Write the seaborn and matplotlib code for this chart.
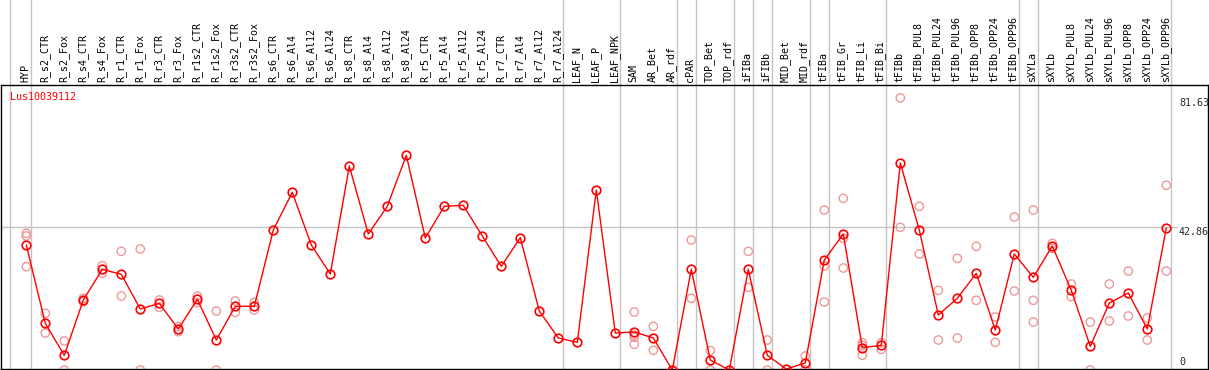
import numpy as np
import pandas as pd
import matplotlib
matplotlib.use("Agg")
import matplotlib.pyplot as plt
import matplotlib.transforms as mtransforms
import seaborn as sns

# --- data -------------------------------------------------------------
gene_id = "Lus10039112"

categories = [
    "HYP", "R_s2_CTR", "R_s2_Fox", "R_s4_CTR", "R_s4_Fox", "R_r1_CTR", "R_r1_Fox",
    "R_r3_CTR", "R_r3_Fox", "R_r1s2_CTR", "R_r1s2_Fox", "R_r3s2_CTR", "R_r3s2_Fox",
    "R_s6_CTR", "R_s6_Al4", "R_s6_Al12", "R_s6_Al24", "R_s8_CTR", "R_s8_Al4",
    "R_s8_Al12", "R_s8_Al24", "R_r5_CTR", "R_r5_Al4", "R_r5_Al12", "R_r5_Al24",
    "R_r7_CTR", "R_r7_Al4", "R_r7_Al12", "R_r7_Al24", "LEAF_N", "LEAF_P", "LEAF_NPK",
    "SAM", "AR_Bet", "AR_rdf", "cPAR", "TOP_Bet", "TOP_rdf", "iFIBa", "iFIBb",
    "MID_Bet", "MID_rdf", "tFIBa", "tFIB_Gr", "tFIB_Li", "tFIB_Bi", "tFIBb",
    "tFIBb_PUL8", "tFIBb_PUL24", "tFIBb_PUL96", "tFIBb_OPP8", "tFIBb_OPP24",
    "tFIBb_OPP96", "sXYLa", "sXYLb", "sXYLb_PUL8", "sXYLb_PUL24", "sXYLb_PUL96",
    "sXYLb_OPP8", "sXYLb_OPP24", "sXYLb_OPP96",
]

mean_values = [
    37.5, 14.0, 4.4, 21.0, 30.2, 28.7, 18.3, 20.0, 12.3, 21.2, 9.0, 19.1, 19.1,
    42.0, 53.3, 37.5, 28.8, 61.2, 40.8, 49.1, 64.4, 39.6, 49.1, 49.4, 40.2,
    31.1, 39.7, 17.7, 9.6, 8.3, 54.0, 11.1,
    11.4, 9.6, 0.0, 30.2, 3.0, 0.0, 30.2, 4.4, 0.3, 2.1,
    33.0, 40.8, 6.7, 7.4, 62.1, 42.0, 16.5, 21.5, 29.0, 12.0, 34.8,
    27.8, 37.2, 23.9, 7.1, 20.1, 23.1, 12.3, 42.6,
]

replicate_values = [
    [41.0, 40.2, 31.0], [17.0, 11.1], [8.7, 0.0], [21.5, 20.5], [31.3, 29.0],
    [35.6, 22.2], [36.3, 0.0], [21.0, 18.8], [13.0, 11.5], [22.2, 20.2],
    [17.7, 0.0], [20.7, 17.3], [20.3, 18.0],
    [], [], [], [], [], [], [], [], [], [], [], [], [], [], [], [], [], [], [],
    [17.4, 9.8, 7.7, 10.5], [13.1, 5.9], [], [39.0, 21.5], [5.8, 0.0], [],
    [35.6, 24.8], [9.0, 0.0], [], [4.2, 0.0],
    [48.0, 31.2, 20.4], [51.5, 39.5, 30.6], [8.2, 4.4, 7.4], [8.2, 6.2],
    [81.63, 42.8], [49.1, 34.8], [23.9, 9.0], [33.5, 9.6], [37.1, 20.9],
    [15.9, 8.3], [45.9, 23.7],
    [48.0, 20.9, 14.4], [38.0, 36.5], [25.8, 22.0], [14.4, 0.0], [25.8, 14.7],
    [29.7, 16.2], [15.6, 9.0], [55.4, 29.7],
]

# separators are drawn after these categories ("" = before the first one)
group_ends = ["", "HYP", "R_r7_Al24", "LEAF_NPK", "AR_rdf", "cPAR", "TOP_rdf",
              "iFIBa", "iFIBb", "MID_rdf", "tFIBa", "tFIB_Bi", "tFIBb_OPP96",
              "sXYLa", "sXYLb_OPP96"]

y_ticks = [0, 42.86, 81.63]

# --- frames -----------------------------------------------------------
pos = np.arange(len(categories))
df_mean = pd.DataFrame({"pos": pos, "value": mean_values})
df_reps = pd.DataFrame(
    [(i, v) for i, reps in enumerate(replicate_values) for v in reps],
    columns=["pos", "value"],
)

# --- style ------------------------------------------------------------
sns.set_style("white")
plt.rcParams["font.family"] = ["DejaVu Sans Mono"]
font_px = 7.2

fig = plt.figure(figsize=(12.09, 3.70), dpi=100)
W, H = 1209, 370
ax = fig.add_axes([1 / W, 1 / H, 1207 / W, 284 / H])

x0 = (1 - 26.3) / 19.0
x1 = (1208 - 26.3) / 19.0
ax.set_xlim(x0, x1)
ax.set_ylim(0.3, 85.5)

light = "#f09898"
grid = "#c4c4c4"

# horizontal reference line
ax.axhline(42.86, xmin=0, xmax=(1177 - 1) / 1207, color=grid, lw=1, zorder=1)

# group separators spanning label area too
for name in group_ends:
    idx = categories.index(name) if name else -1.1
    ax.axvline(idx + 0.24, ymin=0, ymax=1.31, color=grid, lw=1,
               clip_on=False, zorder=1)

sns.scatterplot(data=df_reps, x="pos", y="value", ax=ax, s=36,
                marker="o", facecolors="none", edgecolors=light,
                linewidths=1.0, zorder=2, legend=False)

sns.lineplot(data=df_mean, x="pos", y="value", ax=ax, color="red",
             lw=1, sort=False, estimator=None, marker="o", markersize=6.2,
             markerfacecolor="none", markeredgecolor="red",
             markeredgewidth=1.2, zorder=3, legend=False)

ax.set_xticks([])
ax.set_yticks([])
ax.set_xlabel("")
ax.set_ylabel("")
for sp in ax.spines.values():
    sp.set_color("black")
    sp.set_linewidth(1.0)
    sp.set_visible(True)

# rotated category labels above the plot
trans = mtransforms.blended_transform_factory(ax.transData, ax.transAxes)
for i, name in enumerate(categories):
    ax.text(i - 0.05, (369 - 82) / 284, name, rotation=90, ha="center",
            va="bottom", fontsize=font_px, color="black", transform=trans,
            clip_on=False)

# gene label
ax.text((10 - 1) / 1207, (369 - 97) / 284, gene_id, color="red",
        fontsize=font_px, ha="left", va="center", transform=ax.transAxes)

# right side value labels
tx = mtransforms.blended_transform_factory(ax.transAxes, ax.transData)
xr = (1179 - 1) / 1207
ax.text(xr, y_ticks[2], f"{y_ticks[2]:.2f}", transform=tx, ha="left",
        va="top", fontsize=font_px)
ax.text(xr, y_ticks[1], f"{y_ticks[1]:.2f}", transform=tx, ha="left",
        va="top", fontsize=font_px)
ax.text(xr, 0.9, f"{y_ticks[0]:g}", transform=tx, ha="left",
        va="bottom", fontsize=font_px)

fig.savefig("out.png", dpi=100)
